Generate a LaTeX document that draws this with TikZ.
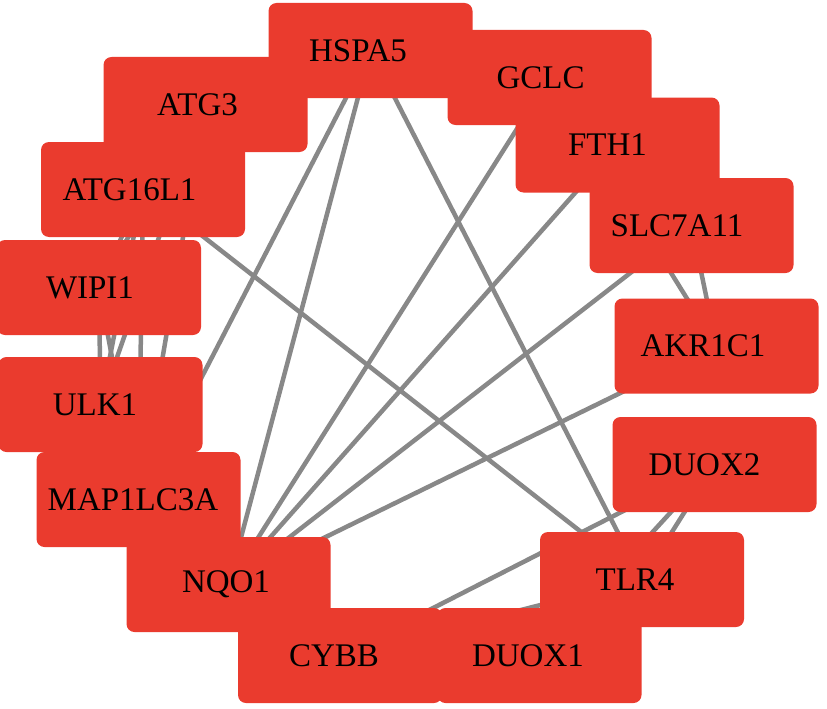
\documentclass[tikz,border=0pt]{standalone}
\usepackage{fontspec}
\setmainfont{Liberation Serif}
\usetikzlibrary{backgrounds}
\definecolor{genered}{RGB}{234,59,46}
\definecolor{edgegray}{RGB}{136,136,136}
\newcommand\genenode[4]{\node[gene] (#1) at (#2) {#3\hspace*{#4pt}};}
\begin{document}
\begin{tikzpicture}[x=1pt,y=-1pt,
  gene/.style={rectangle,rounded corners=8pt,fill=genered,minimum width=204pt,minimum height=95pt,inner sep=0pt,font=\fontsize{33}{40}\selectfont},
  edge/.style={draw=edgegray,line width=4.5pt}]
\useasboundingbox (0,0) rectangle (827,709);
\genenode{HSPA5}{370.5,50.5}{HSPA5}{25}
\genenode{GCLC}{549.5,77.5}{GCLC}{18}
\genenode{FTH1}{617.5,145}{FTH1}{20}
\genenode{SLC7A11}{691.5,225.5}{SLC7A11}{29}
\genenode{AKR1C1}{716.5,346}{AKR1C1}{27}
\genenode{DUOX2}{714.5,464.5}{DUOX2}{20}
\genenode{TLR4}{642,579.5}{TLR4}{14}
\genenode{DUOX1}{539.5,655.5}{DUOX1}{23}
\genenode{CYBB}{340,655.5}{CYBB}{12}
\genenode{NQO1}{228.5,584.5}{NQO1}{5}
\genenode{MAP1LC3A}{138.5,499.5}{MAP1LC3A}{11}
\genenode{ULK1}{100.5,404.5}{ULK1}{11}
\genenode{WIPI1}{99,287.5}{WIPI1}{18}
\genenode{ATG16L1}{143,189.5}{ATG16L1}{27}
\genenode{ATG3}{205.5,104.5}{ATG3}{16}
\begin{scope}[on background layer]
\foreach \a/\b in {HSPA5/MAP1LC3A,HSPA5/NQO1,HSPA5/TLR4,ATG16L1/TLR4,
  NQO1/GCLC,NQO1/FTH1,NQO1/SLC7A11,NQO1/AKR1C1,SLC7A11/AKR1C1,GCLC/AKR1C1,
  CYBB/DUOX2,CYBB/TLR4,DUOX1/DUOX2,DUOX2/TLR4,
  WIPI1/ULK1,WIPI1/MAP1LC3A,ATG3/ULK1,ATG16L1/ULK1,ATG16L1/MAP1LC3A,
  ATG3/MAP1LC3A,ATG16L1/WIPI1,ATG3/WIPI1}
  \draw[edge] (\a.center) -- (\b.center);
\end{scope}
\end{tikzpicture}
\end{document}
